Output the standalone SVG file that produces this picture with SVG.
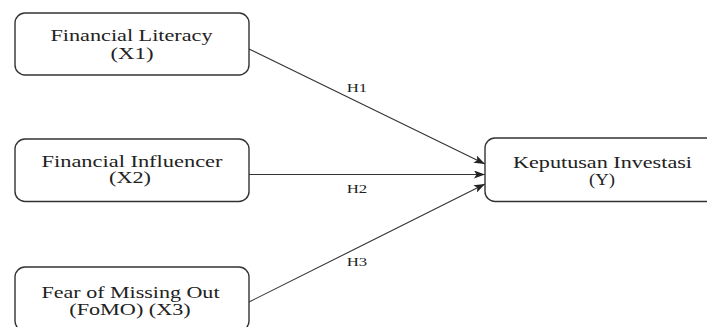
<svg xmlns="http://www.w3.org/2000/svg" width="707" height="327" viewBox="0 0 707 327">
<style>
.box{fill:#fff;stroke:#333;stroke-width:1.4}
.t{font-family:"Liberation Serif","Times New Roman",serif;font-size:16px;fill:#222;text-anchor:middle}
.h{font-family:"Liberation Serif","Times New Roman",serif;font-size:12.5px;fill:#222;text-anchor:middle}
.c{stroke:#333;stroke-width:1.1;fill:none;marker-end:url(#ah)}
</style>
<defs>
<marker id="ah" markerWidth="12" markerHeight="8" refX="11" refY="4" orient="auto" markerUnits="userSpaceOnUse">
<path d="M0,0 L11,4 L0,8 L2.5,4 Z" fill="#222"/>
</marker>
</defs>
<rect width="707" height="327" fill="#fff"/>
<g id="connectors">
<line class="c" x1="249" y1="49" x2="485" y2="164"/>
<line class="c" x1="249" y1="174.5" x2="485" y2="174.5"/>
<line class="c" x1="249" y1="302" x2="485" y2="184"/>
<text class="h" x="357" y="91.5" textLength="20.5" lengthAdjust="spacingAndGlyphs">H1</text>
<text class="h" x="357" y="192.5" textLength="20.5" lengthAdjust="spacingAndGlyphs">H2</text>
<text class="h" x="357" y="266" textLength="20.5" lengthAdjust="spacingAndGlyphs">H3</text>
</g>
<g id="x1">
<rect class="box" x="15" y="13" width="234" height="62" rx="10"/>
<text class="t" x="131.5" y="40.5" textLength="162" lengthAdjust="spacingAndGlyphs">Financial Literacy</text>
<text class="t" x="132" y="58.5" textLength="43" lengthAdjust="spacingAndGlyphs">(X1)</text>
</g>
<g id="x2">
<rect class="box" x="15" y="139" width="234" height="62.5" rx="10"/>
<text class="t" x="132" y="166.7" textLength="181" lengthAdjust="spacingAndGlyphs">Financial Influencer</text>
<text class="t" x="130" y="183" textLength="42" lengthAdjust="spacingAndGlyphs">(X2)</text>
</g>
<g id="x3">
<rect class="box" x="15" y="267" width="234" height="64" rx="10"/>
<text class="t" x="130.5" y="298.3" textLength="178" lengthAdjust="spacingAndGlyphs">Fear of Missing Out</text>
<text class="t" x="130" y="314.5" textLength="121.5" lengthAdjust="spacingAndGlyphs">(FoMO) (X3)</text>
</g>
<g id="y">
<rect class="box" x="485" y="138" width="236" height="63.5" rx="10"/>
<text class="t" x="602.5" y="168" textLength="179" lengthAdjust="spacingAndGlyphs">Keputusan Investasi</text>
<text class="t" x="602" y="185" textLength="26" lengthAdjust="spacingAndGlyphs">(Y)</text>
</g>
</svg>
